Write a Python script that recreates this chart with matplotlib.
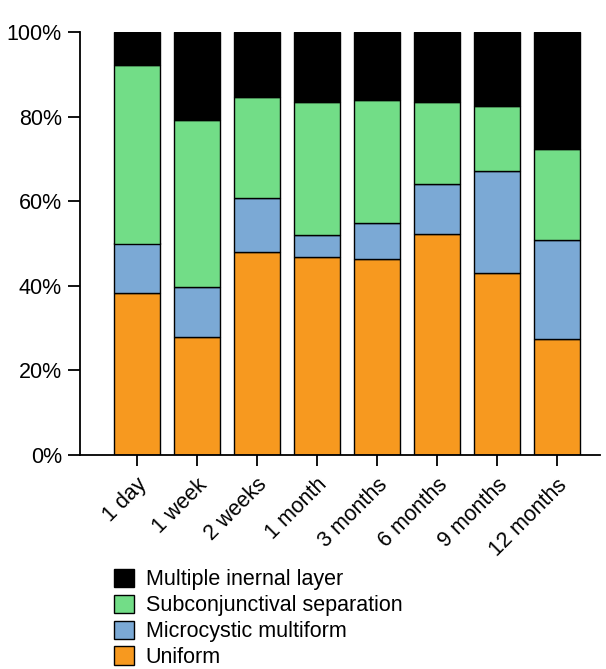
import matplotlib
matplotlib.use("Agg")
import matplotlib.pyplot as plt
from matplotlib.patches import Patch
import numpy as np

plt.rcParams['font.family'] = ['Liberation Sans', 'DejaVu Sans']

categories = ["1 day", "1 week", "2 weeks", "1 month", "3 months", "6 months", "9 months", "12 months"]
uniform = [38.4, 27.9, 48.1, 46.8, 46.3, 52.2, 43.0, 27.4]
microcystic = [11.6, 11.7, 12.6, 5.1, 8.5, 11.9, 24.2, 23.5]
subconj = [42.1, 39.6, 23.9, 31.5, 29.1, 19.4, 15.4, 21.5]
multiple = [7.9, 20.8, 15.4, 16.6, 16.1, 16.5, 17.4, 27.6]

c_uniform = "#F7991F"
c_micro = "#7BA9D5"
c_subconj = "#72DD87"
c_multi = "#000000"

fig = plt.figure(figsize=(6.06, 6.69), dpi=100)
ax = fig.add_axes([80/606, (669-455)/669, (600-80)/606, (455-32)/669])

x = np.arange(len(categories))
w = 0.77
kw = dict(width=w, edgecolor="black", linewidth=1.0)
ax.bar(x, uniform, color=c_uniform, **kw)
bot = np.array(uniform)
ax.bar(x, microcystic, bottom=bot, color=c_micro, **kw)
bot = bot + np.array(microcystic)
ax.bar(x, subconj, bottom=bot, color=c_subconj, **kw)
bot = bot + np.array(subconj)
ax.bar(x, multiple, bottom=bot, color=c_multi, **kw)

ax.set_ylim(0, 100)
ax.set_xlim(-0.945, 7.72)
ax.set_yticks([0, 20, 40, 60, 80, 100])
ax.set_yticklabels([f"{v}%" for v in [0, 20, 40, 60, 80, 100]], fontsize=15.5)
ax.set_xticks(x)
ax.set_xticklabels(categories, rotation=45, ha="right", rotation_mode="anchor", fontsize=15.5)
ax.spines['top'].set_visible(False)
ax.spines['right'].set_visible(False)
ax.spines['left'].set_linewidth(1.3)
ax.spines['bottom'].set_linewidth(1.3)
ax.tick_params(axis='y', length=9, width=1.3, pad=4)
ax.tick_params(axis='x', length=8, width=1.3, pad=6)

handles = [Patch(facecolor=c_multi, edgecolor="black", linewidth=1.0),
           Patch(facecolor=c_subconj, edgecolor="black", linewidth=1.0),
           Patch(facecolor=c_micro, edgecolor="black", linewidth=1.0),
           Patch(facecolor=c_uniform, edgecolor="black", linewidth=1.0)]
labels = ["Multiple inernal layer", "Subconjunctival separation", "Microcystic multiform", "Uniform"]
fig.legend(handles, labels, loc="upper left", bbox_to_anchor=(114/606, 1 - 569/669),
           frameon=False, fontsize=15.5, handlelength=0.92, handleheight=0.92,
           labelspacing=0.2, handletextpad=0.55, borderaxespad=0, borderpad=0)

fig.savefig("out.png", dpi=100)
